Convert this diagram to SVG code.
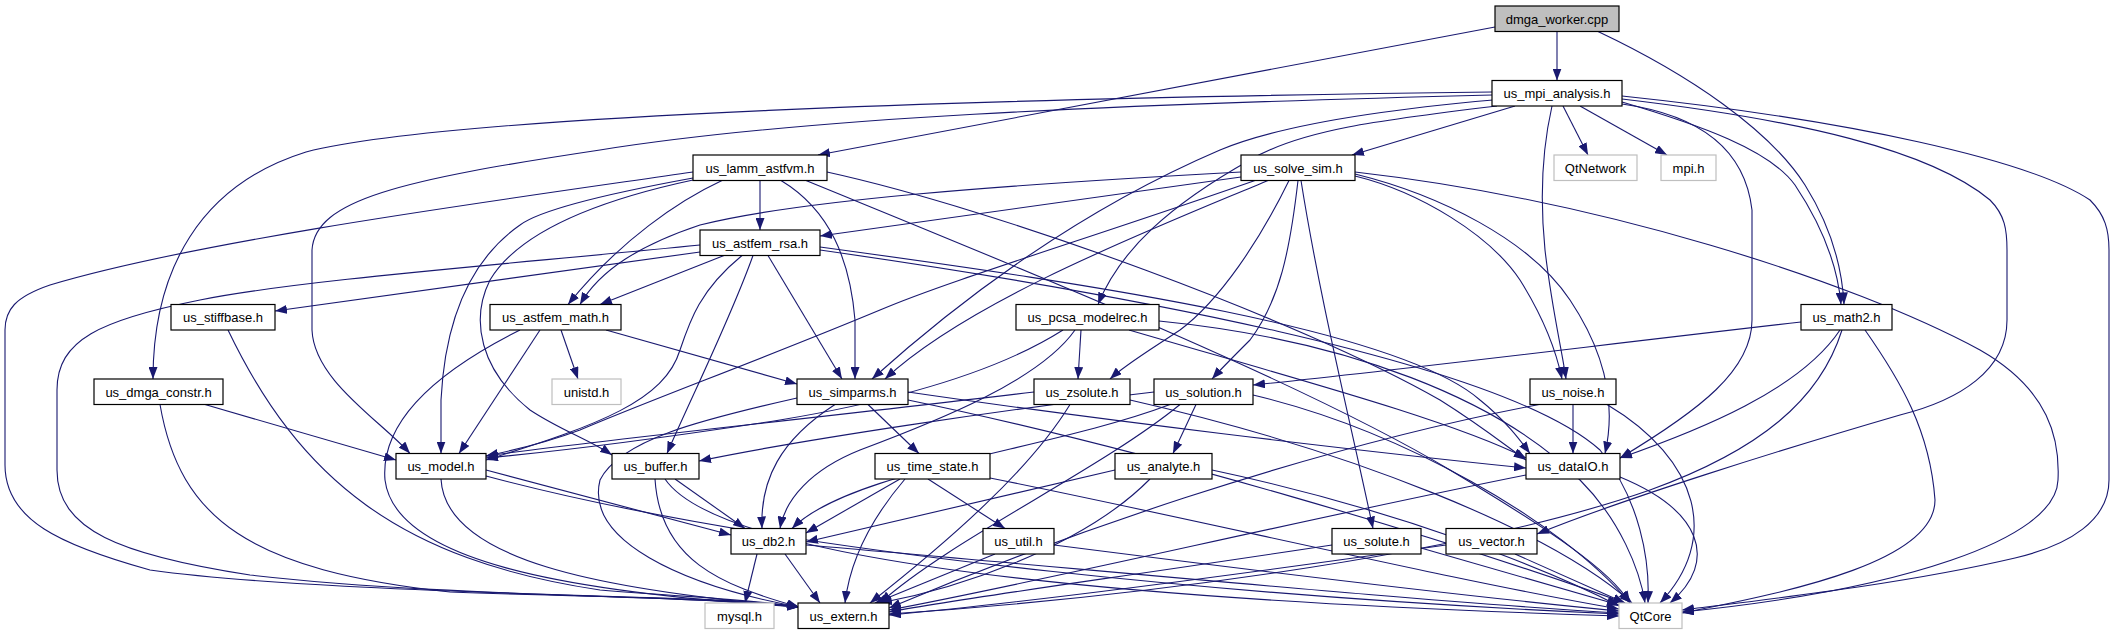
<svg xmlns="http://www.w3.org/2000/svg" width="2115" height="635" viewBox="0 0 2115 635">
<defs>
<marker id="a" markerUnits="userSpaceOnUse" markerWidth="12" markerHeight="9" refX="12" refY="4.5" orient="auto"><path d="M0,0 L12,4.5 L0,9 z" fill="#191970"/></marker>
<style>
.e path{fill:none;stroke:#191970;stroke-width:1.1;marker-end:url(#a)}
.n rect{fill:#fff;stroke:#000;stroke-width:1.2}
.n.g rect{stroke:#bfbfbf}
.n.r rect{fill:#bfbfbf}
.n text{font-family:"Liberation Sans",Arial,sans-serif;font-size:13px;text-anchor:middle;fill:#000}
</style>
</defs>
<rect width="2115" height="635" fill="#fff"/>
<g class="e">
<path d="M1557,31.5 L1557,80.5"/>
<path d="M1495,27 L818,155"/>
<path d="M1598,31.5 C1690,75 1770,130 1805,185 C1830,225 1842,265 1844,304.5"/>
<path d="M1492,92 C1000,98 450,115 306,152 C200,185 153,270 153,379"/>
<path d="M1492,95 C1100,105 800,118 600,150 C400,180 315,200 312,250 L312,330 C314,380 380,420 410,453.5"/>
<path d="M1497,106 C1380,120 1300,130 1250,160 C1170,205 1120,250 1098,304.5"/>
<path d="M1493,100 C1380,110 1280,125 1220,150 C1080,210 960,300 872,379"/>
<path d="M1515,106 L1352,155"/>
<path d="M1552,106 C1542,150 1540,200 1545,250 C1552,310 1562,350 1566,379"/>
<path d="M1563,106 L1588,155"/>
<path d="M1580,106 L1667,155"/>
<path d="M1622,102 C1700,125 1770,150 1795,185 C1825,230 1838,270 1841,304.5"/>
<path d="M1622,104 C1700,115 1745,150 1752,210 L1752,320 C1752,370 1700,410 1620,458"/>
<path d="M1622,99 C1800,120 1930,150 1990,200 C2005,215 2007,230 2007,250 L2007,320 C2007,370 1960,400 1900,415 C1780,450 1620,500 1537,534"/>
<path d="M1622,96 C1850,120 2030,160 2090,200 C2105,215 2109,230 2109,250 L2109,480 C2109,520 2070,545 2015,558 C1900,585 1760,600 1682,610"/>
<path d="M760,180.5 L760,230"/>
<path d="M722,180.5 C680,200 620,240 568,304.5"/>
<path d="M693,178 C600,195 540,210 520,225 C470,260 445,320 441,400 L441,453.5"/>
<path d="M693,180 C600,200 520,230 490,280 C470,320 480,370 530,410 C560,430 590,440 612,455"/>
<path d="M781,180.5 C830,210 850,260 855,320 L855,379"/>
<path d="M693,172 C500,200 200,240 50,285 C15,297 5,310 5,330 L5,465 C5,520 60,545 150,570 C330,595 700,594 799,607"/>
<path d="M827,172 C1000,210 1300,320 1440,400 C1480,425 1505,445 1526,460"/>
<path d="M806,180.5 C1000,260 1300,380 1450,470 C1550,530 1610,570 1630,603"/>
<path d="M1241,177 L820,236"/>
<path d="M1241,172 C1000,185 800,200 700,225 C640,245 600,270 580,304.5"/>
<path d="M1255,180.5 C1100,235 950,280 880,310 C760,360 650,400 580,430 C540,445 505,452 486,456"/>
<path d="M1268,180.5 C1150,230 970,300 885,379"/>
<path d="M1289,180.5 C1260,240 1220,300 1180,330 C1150,350 1125,365 1110,379"/>
<path d="M1298,180.5 C1290,250 1280,300 1250,340 C1230,360 1220,370 1212,379"/>
<path d="M1301,180.5 C1320,300 1350,420 1373,528.5"/>
<path d="M1355,176 C1420,192 1490,235 1520,280 C1545,320 1556,350 1562,379"/>
<path d="M1355,174 C1440,195 1530,240 1570,300 C1610,360 1615,410 1605,453.5"/>
<path d="M1355,172 C1600,200 1850,280 1980,350 C2050,390 2060,440 2058,480 C2056,540 1900,590 1682,612"/>
<path d="M724,255.5 L600,304.5"/>
<path d="M700,252 L275,311"/>
<path d="M742,255.5 C700,290 690,320 680,350 C665,400 600,425 486,460"/>
<path d="M753,255.5 C730,320 690,400 667,453.5"/>
<path d="M768,255.5 L842,379"/>
<path d="M700,245 C500,265 300,280 200,300 C100,320 57,340 57,390 L57,470 C57,530 120,555 250,575 C450,598 700,595 799,607"/>
<path d="M820,247 C1100,285 1400,330 1480,400 C1505,420 1520,440 1530,453.5"/>
<path d="M820,250 C1100,290 1500,360 1600,450 C1640,500 1650,560 1648,603"/>
<path d="M561,330 L578,379"/>
<path d="M540,330 L459,453.5"/>
<path d="M606,330 L797,384"/>
<path d="M520,330 C440,370 380,420 385,480 C395,560 560,592 799,607"/>
<path d="M228,330 C300,480 400,560 600,590 C700,598 760,600 799,607"/>
<path d="M205,404.5 L396,460"/>
<path d="M160,404.5 C180,520 250,570 450,592 C600,598 720,596 799,607"/>
<path d="M1081,330 L1078,379"/>
<path d="M1063,330 C1000,370 900,400 780,420 C650,440 550,452 486,458"/>
<path d="M1075,330 C1040,380 940,420 860,450 C810,470 785,500 780,528.5"/>
<path d="M1129,330 C1300,380 1450,420 1526,458"/>
<path d="M1159,321 C1350,340 1500,400 1580,480 C1620,520 1640,570 1645,603"/>
<path d="M1801,322 C1600,345 1400,370 1253,385"/>
<path d="M1840,330 C1800,390 1700,430 1620,458"/>
<path d="M1842,330 C1820,400 1760,450 1650,490 C1450,560 1100,600 889,614"/>
<path d="M1865,330 C1900,380 1930,430 1935,500 C1935,560 1800,590 1682,613"/>
<path d="M868,404.5 L919,453.5"/>
<path d="M835,404.5 C780,440 760,480 762,528.5"/>
<path d="M797,398 C700,420 620,440 600,480 C585,540 680,585 799,607"/>
<path d="M908,392 C1100,420 1350,450 1526,468"/>
<path d="M908,400 C1150,450 1450,540 1625,603"/>
<path d="M1034,392 C800,420 600,440 486,456"/>
<path d="M1070,404.5 C1030,470 950,540 870,603"/>
<path d="M1130,400 C1350,450 1550,530 1632,603"/>
<path d="M1196,404.5 L1173,453.5"/>
<path d="M1154,392 C1000,410 800,440 699,461"/>
<path d="M1170,404.5 C1050,450 850,470 792,528.5"/>
<path d="M1180,404.5 C1100,470 950,540 880,603"/>
<path d="M1253,395 C1400,430 1560,520 1630,603"/>
<path d="M1573,404.5 L1573,453.5"/>
<path d="M1539,404.5 C1300,450 1050,540 889,608"/>
<path d="M1607,404.5 C1700,460 1720,540 1660,603"/>
<path d="M486,470 L731,535"/>
<path d="M441,479 C445,560 600,590 799,607"/>
<path d="M486,476 C800,560 1300,600 1619,614"/>
<path d="M675,479 L745,528.5"/>
<path d="M655,479 C660,560 720,585 799,607"/>
<path d="M665,479 C720,560 1100,600 1619,616"/>
<path d="M900,479 L806,533"/>
<path d="M928,479 L1005,528.5"/>
<path d="M905,479 C870,520 850,560 845,603"/>
<path d="M990,478 C1200,520 1450,580 1619,609"/>
<path d="M1115,470 L806,542"/>
<path d="M1150,479 C1080,550 950,590 880,603"/>
<path d="M1212,470 C1400,510 1550,570 1619,606"/>
<path d="M1526,475 C1300,520 1050,580 889,610"/>
<path d="M1620,477 C1700,510 1720,560 1670,603"/>
<path d="M757,554 L745,603"/>
<path d="M785,554 L820,603"/>
<path d="M806,545 C1100,570 1400,600 1619,613"/>
<path d="M995,554 L875,603"/>
<path d="M1054,545 C1250,570 1450,595 1619,611"/>
<path d="M1332,545 C1100,580 950,600 889,612"/>
<path d="M1421,548 L1619,605"/>
<path d="M1446,545 C1200,580 1000,605 889,615"/>
<path d="M1515,554 L1625,603"/>
</g>
<g id="dmga_worker" class="n r"><rect x="1495" y="6" width="124" height="25.5"/><text x="1557" y="23.5">dmga_worker.cpp</text></g>
<g id="us_mpi_analysis" class="n"><rect x="1492" y="80.5" width="130" height="25.5"/><text x="1557" y="98">us_mpi_analysis.h</text></g>
<g id="us_lamm_astfvm" class="n"><rect x="693" y="155" width="134" height="25.5"/><text x="760" y="172.5">us_lamm_astfvm.h</text></g>
<g id="us_solve_sim" class="n"><rect x="1241" y="155" width="114" height="25.5"/><text x="1298" y="172.5">us_solve_sim.h</text></g>
<g id="QtNetwork" class="n g"><rect x="1554" y="155" width="83" height="25.5"/><text x="1595.5" y="172.5">QtNetwork</text></g>
<g id="mpi" class="n g"><rect x="1661" y="155" width="55" height="25.5"/><text x="1688.5" y="172.5">mpi.h</text></g>
<g id="us_astfem_rsa" class="n"><rect x="700" y="230" width="120" height="25.5"/><text x="760" y="247.5">us_astfem_rsa.h</text></g>
<g id="us_stiffbase" class="n"><rect x="171" y="304.5" width="104" height="25.5"/><text x="223" y="322">us_stiffbase.h</text></g>
<g id="us_astfem_math" class="n"><rect x="490" y="304.5" width="131" height="25.5"/><text x="555.5" y="322">us_astfem_math.h</text></g>
<g id="us_pcsa_modelrec" class="n"><rect x="1016" y="304.5" width="143" height="25.5"/><text x="1087.5" y="322">us_pcsa_modelrec.h</text></g>
<g id="us_math2" class="n"><rect x="1801" y="304.5" width="91" height="25.5"/><text x="1846.5" y="322">us_math2.h</text></g>
<g id="us_dmga_constr" class="n"><rect x="94" y="379" width="129" height="25.5"/><text x="158.5" y="396.5">us_dmga_constr.h</text></g>
<g id="unistd" class="n g"><rect x="552" y="379" width="69" height="25.5"/><text x="586.5" y="396.5">unistd.h</text></g>
<g id="us_simparms" class="n"><rect x="797" y="379" width="111" height="25.5"/><text x="852.5" y="396.5">us_simparms.h</text></g>
<g id="us_zsolute" class="n"><rect x="1034" y="379" width="96" height="25.5"/><text x="1082" y="396.5">us_zsolute.h</text></g>
<g id="us_solution" class="n"><rect x="1154" y="379" width="99" height="25.5"/><text x="1203.5" y="396.5">us_solution.h</text></g>
<g id="us_noise" class="n"><rect x="1530" y="379" width="86" height="25.5"/><text x="1573" y="396.5">us_noise.h</text></g>
<g id="us_model" class="n"><rect x="396" y="453.5" width="90" height="25.5"/><text x="441" y="471">us_model.h</text></g>
<g id="us_buffer" class="n"><rect x="612" y="453.5" width="87" height="25.5"/><text x="655.5" y="471">us_buffer.h</text></g>
<g id="us_time_state" class="n"><rect x="875" y="453.5" width="115" height="25.5"/><text x="932.5" y="471">us_time_state.h</text></g>
<g id="us_analyte" class="n"><rect x="1115" y="453.5" width="97" height="25.5"/><text x="1163.5" y="471">us_analyte.h</text></g>
<g id="us_dataIO" class="n"><rect x="1526" y="453.5" width="94" height="25.5"/><text x="1573" y="471">us_dataIO.h</text></g>
<g id="us_db2" class="n"><rect x="731" y="528.5" width="75" height="25.5"/><text x="768.5" y="546">us_db2.h</text></g>
<g id="us_util" class="n"><rect x="983" y="528.5" width="71" height="25.5"/><text x="1018.5" y="546">us_util.h</text></g>
<g id="us_solute" class="n"><rect x="1332" y="528.5" width="89" height="25.5"/><text x="1376.5" y="546">us_solute.h</text></g>
<g id="us_vector" class="n"><rect x="1446" y="528.5" width="91" height="25.5"/><text x="1491.5" y="546">us_vector.h</text></g>
<g id="mysql" class="n g"><rect x="705" y="603" width="69" height="25.5"/><text x="739.5" y="620.5">mysql.h</text></g>
<g id="us_extern" class="n"><rect x="798" y="603" width="91" height="25.5"/><text x="843.5" y="620.5">us_extern.h</text></g>
<g id="QtCore" class="n g"><rect x="1619" y="603" width="63" height="25.5"/><text x="1650.5" y="620.5">QtCore</text></g>
</svg>
